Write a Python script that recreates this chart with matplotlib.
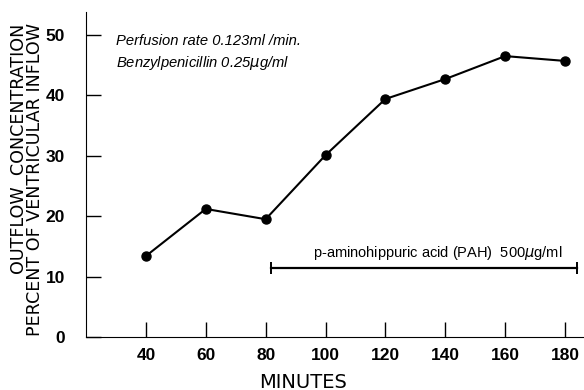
import matplotlib
matplotlib.use("Agg")
import matplotlib.pyplot as plt
from matplotlib import font_manager

minutes = [40, 60, 80, 100, 120, 140, 160, 180]
outflow_pct = [13.4, 21.2, 19.5, 30.1, 39.4, 42.7, 46.5, 45.7]
pah_start, pah_end, pah_level = 81.7, 184.0, 11.5
x_ticks = [40, 60, 80, 100, 120, 140, 160, 180]
y_ticks = [0, 10, 20, 30, 40, 50]

names = {f.name for f in font_manager.fontManager.ttflist}
narrow = 'Liberation Sans Narrow' if 'Liberation Sans Narrow' in names else 'Liberation Sans'

fig = plt.figure(figsize=(5.84, 3.9), dpi=100)
ax = fig.add_axes([86/584, 53/390, 497/584, 325/390])
ax.plot(minutes, outflow_pct, color='black', lw=1.5, marker='o', ms=6.5)
ax.plot([pah_start, pah_end], [pah_level, pah_level], color='black', lw=1.6)
ax.plot([pah_start, pah_end], [pah_level, pah_level], ls='none', marker='|',
        ms=8, mew=1.4, color='black')
ax.text(95.7, 12.4, 'p-aminohippuric acid (PAH)  500$\\mu$g/ml', fontsize=10.5,
        family=[narrow, 'DejaVu Sans'], va='bottom', ha='left')
ax.text(30.0, 49.0, 'Perfusion rate 0.123ml /min.', fontsize=10.6, style='italic',
        family=[narrow, 'DejaVu Sans'], va='center', ha='left')
ax.text(30.0, 45.3, 'Benzylpenicillin 0.25$\\mu$g/ml', fontsize=10.6, style='italic',
        family=[narrow, 'DejaVu Sans'], va='center', ha='left')

ax.set_xlim(20, 186)
ax.set_ylim(0, 53.8)
ax.set_xticks(x_ticks)
ax.set_yticks(y_ticks)
ax.spines['top'].set_visible(False)
ax.spines['right'].set_visible(False)
ax.tick_params(axis='both', direction='in', length=11, width=1, colors='black',
               labelsize=12.5)
ax.tick_params(axis='y', pad=15)
ax.tick_params(axis='x', pad=8)
for lab in ax.get_xticklabels() + ax.get_yticklabels():
    lab.set_family([narrow, 'DejaVu Sans'])
    lab.set_fontweight('bold')

fig.text(303/584, 1 - 382/390, 'MINUTES', ha='center', va='center', fontsize=14,
         family='DejaVu Sans')
fig.text(27/584, 1 - 180/390, 'OUTFLOW  CONCENTRATION\nPERCENT OF VENTRICULAR INFLOW',
         rotation=90, ha='center', va='center', fontsize=12.6, family='DejaVu Sans',
         multialignment='right', linespacing=0.92)

fig.savefig('out.png', dpi=100)
